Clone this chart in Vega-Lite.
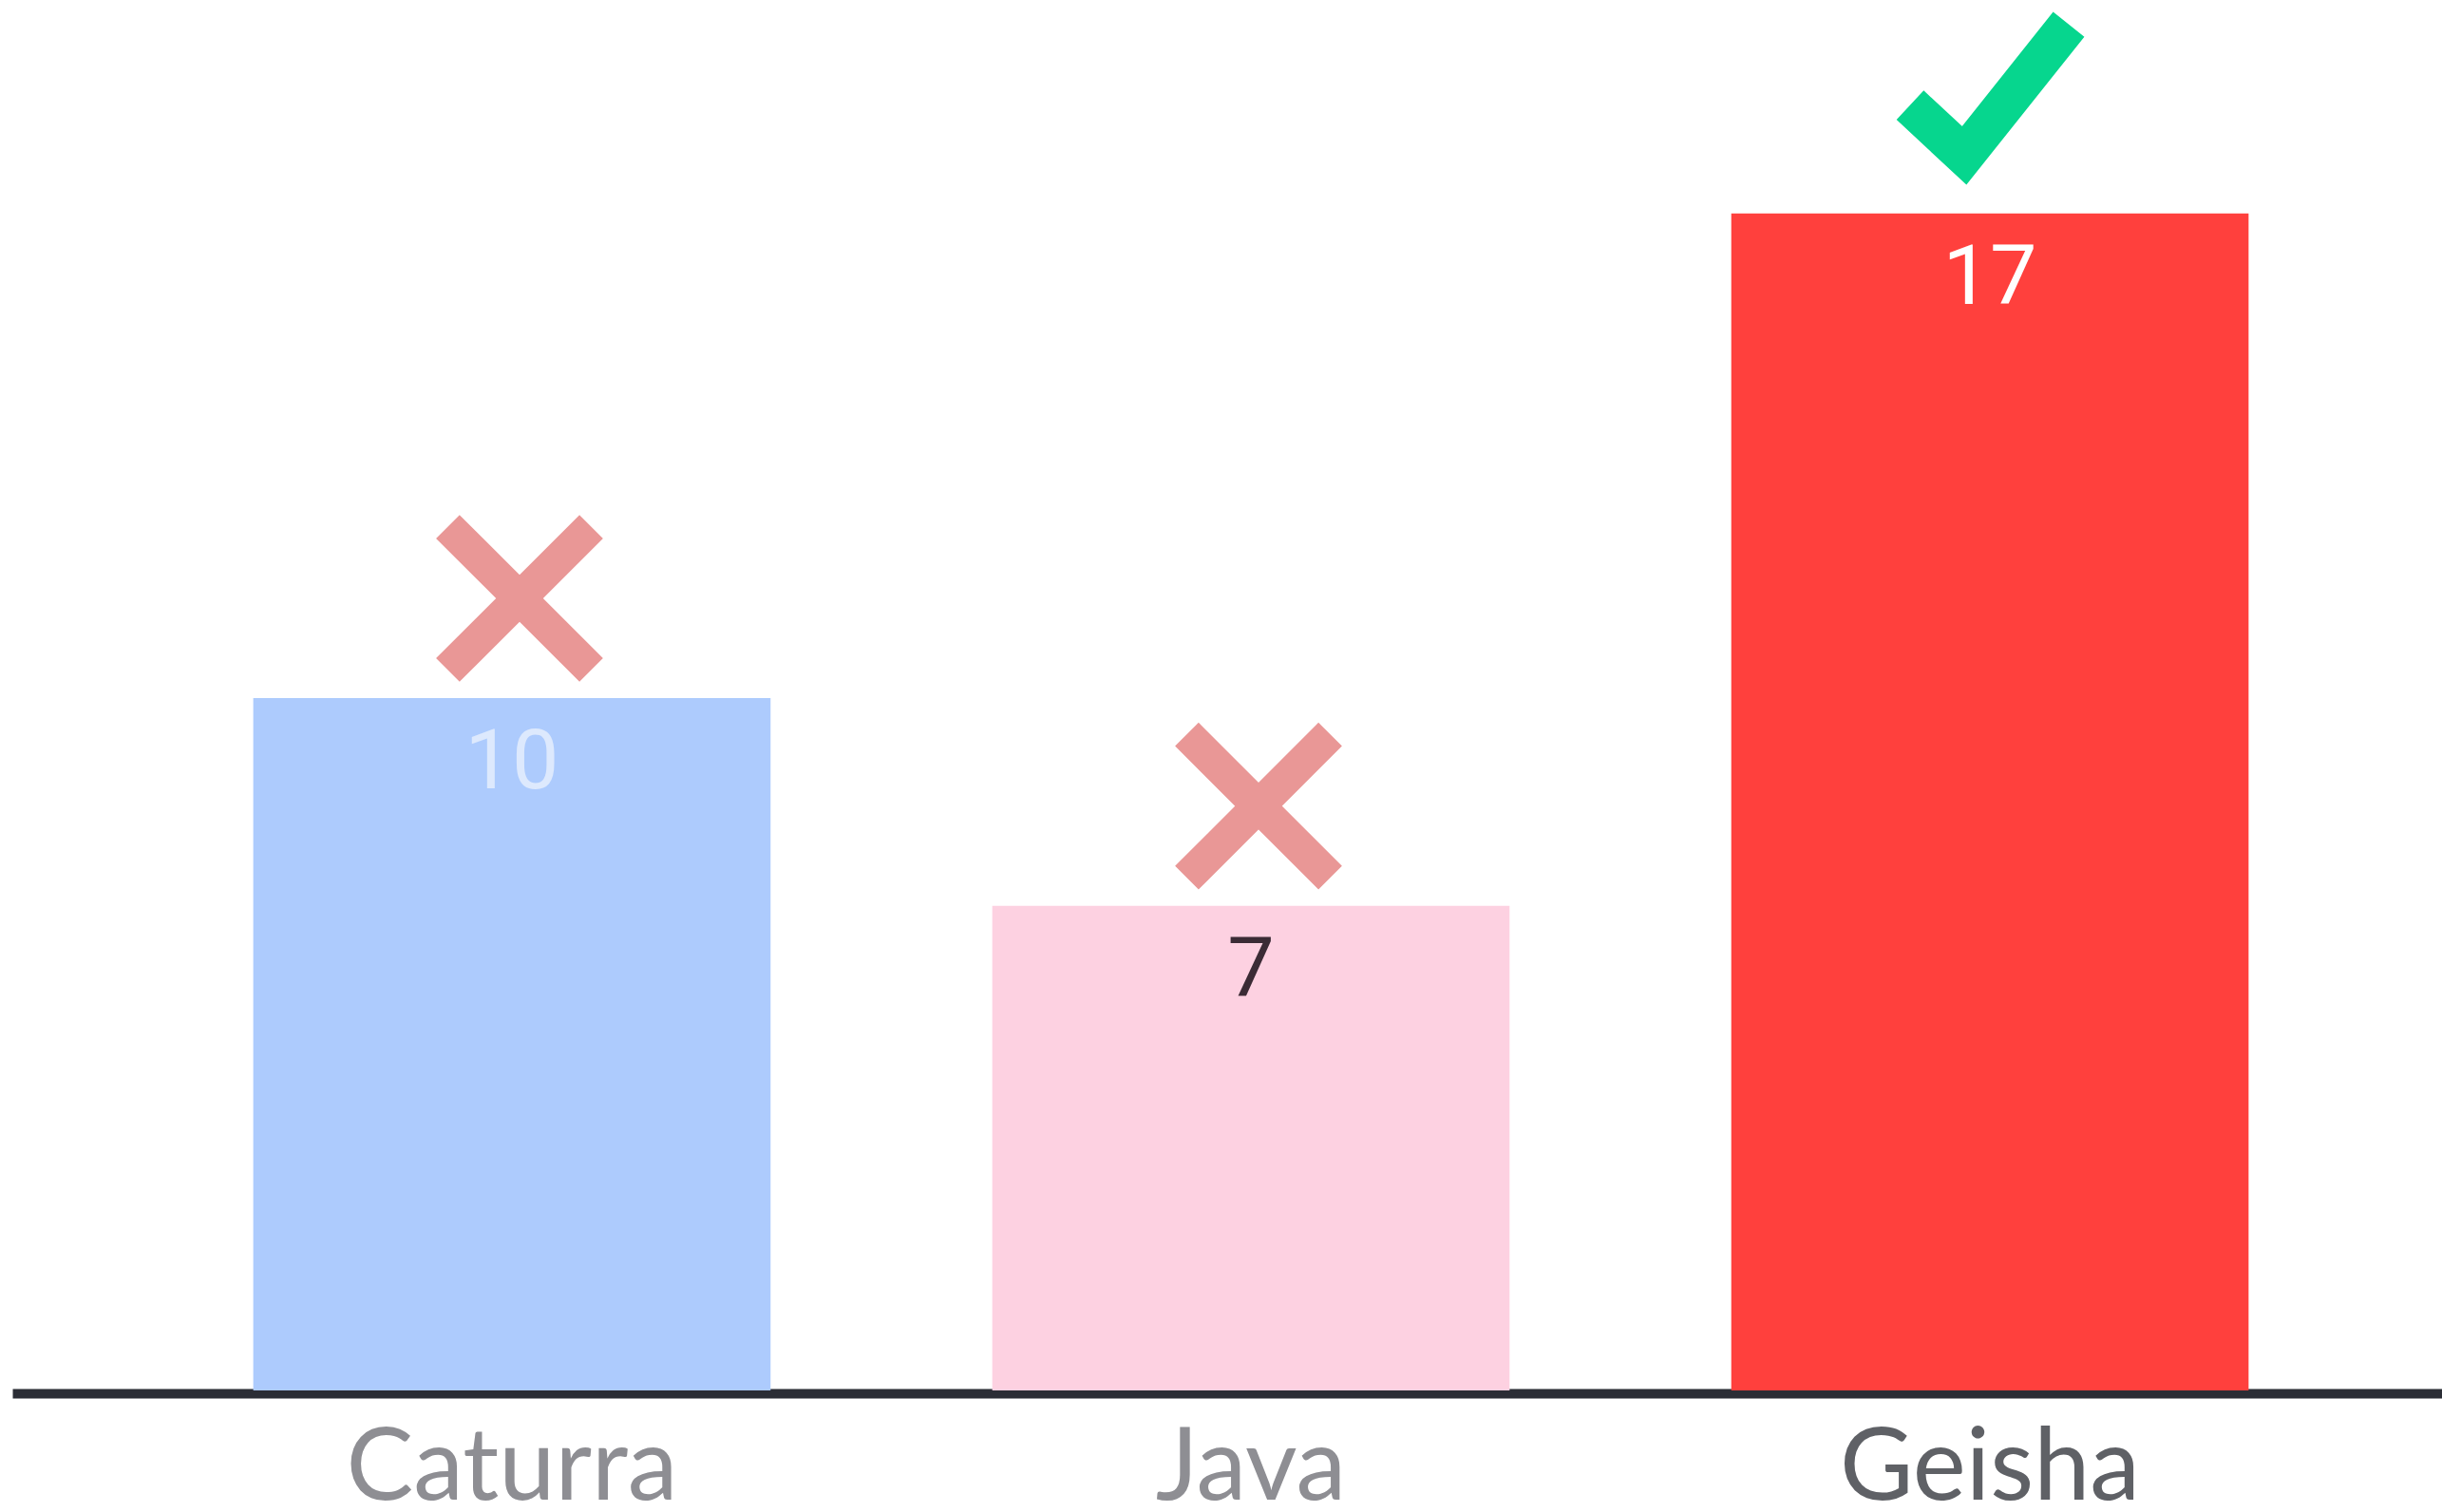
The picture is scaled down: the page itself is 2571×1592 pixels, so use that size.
{
  "$schema": "https://vega.github.io/schema/vega-lite/v6.json",
  "width": 2608,
  "height": 1458,
  "autosize": {"type": "none"},
  "padding": {"left": 13, "top": 6, "right": 0, "bottom": 128},
  "background": "#ffffff",
  "config": {"view": {"stroke": null}},
  "data": {
    "values": [
      {"variety": "Caturra", "count": 10, "verdict": "no"},
      {"variety": "Java", "count": 7, "verdict": "no"},
      {"variety": "Geisha", "count": 17, "verdict": "yes"}
    ]
  },
  "encoding": {
    "x": {
      "field": "variety",
      "type": "nominal",
      "sort": ["Caturra", "Java", "Geisha"],
      "scale": {"paddingInner": 0.3, "paddingOuter": 0.326},
      "axis": {
        "title": null,
        "orient": "bottom",
        "offset": 3,
        "ticks": false,
        "tickSize": 0,
        "grid": false,
        "domainColor": "#2b2d35",
        "domainWidth": 10,
        "domainCap": "butt",
        "labelFont": "Lato",
        "labelFontSize": 106,
        "labelLimit": 0,
        "labelBaseline": "alphabetic",
        "labelPadding": 111,
        "labelAngle": 0,
        "labelColor": {"condition": {"test": "datum.value === 'Geisha'", "value": "#5f6166"}, "value": "#8e8e93"}
      }
    },
    "y": {
      "field": "count",
      "type": "quantitative",
      "scale": {"domain": [0, 20], "nice": false},
      "axis": null
    }
  },
  "layer": [
    {
      "mark": {"type": "bar"},
      "encoding": {
        "color": {
          "field": "variety",
          "type": "nominal",
          "scale": {"domain": ["Caturra", "Java", "Geisha"], "range": ["#adcbfd", "#fdd1e1", "#ff403d"]},
          "legend": null
        }
      }
    },
    {
      "mark": {"type": "text", "font": "Roboto", "fontSize": 88, "baseline": "alphabetic", "align": "center", "dy": 95},
      "encoding": {
        "text": {"field": "count", "type": "quantitative"},
        "fill": {
          "field": "variety",
          "type": "nominal",
          "scale": {"domain": ["Caturra", "Java", "Geisha"], "range": ["#dde9fd", "#3b2b35", "#ffffff"]},
          "legend": null
        }
      }
    },
    {
      "mark": {"type": "point", "filled": false, "size": 22800, "strokeCap": "butt", "strokeJoin": "miter", "opacity": 1, "yOffset": -105},
      "encoding": {
        "shape": {
          "field": "verdict",
          "type": "nominal",
          "scale": {"domain": ["no", "yes"], "range": ["M-0.894,-1L1.106,1M1.106,-1L-0.894,1", "M-1.113,-0.119L-0.358,0.583L1.099,-1.245"]},
          "legend": null
        },
        "stroke": {
          "field": "verdict",
          "type": "nominal",
          "scale": {"domain": ["no", "yes"], "range": ["#e99796", "#06d68e"]},
          "legend": null
        },
        "strokeWidth": {
          "field": "verdict",
          "type": "nominal",
          "scale": {"domain": ["no", "yes"], "range": [35, 42]},
          "legend": null
        }
      }
    }
  ]
}
